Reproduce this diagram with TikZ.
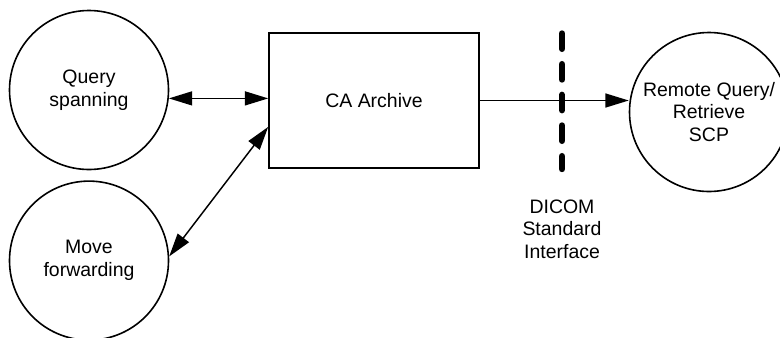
\documentclass[tikz,border=0pt]{standalone}
\usepackage{fontspec}
\setmainfont{Liberation Sans}
\usetikzlibrary{shapes.geometric, arrows.meta, positioning, calc}

\begin{document}
\begin{tikzpicture}[
    x=0.75pt, y=-0.75pt,
    font=\fontsize{14.6}{17}\selectfont,
    >={Triangle[length=17.5pt, width=10.5pt]},
    process/.style={rectangle, draw, line width=1.2pt, minimum width=157.5pt, minimum height=101.25pt},
    agent/.style={circle, draw, line width=1.2pt, minimum size=119.25pt, inner sep=0pt, align=center},
    arrow/.style={line width=1.1pt, ->},
    twoway/.style={line width=1.1pt, <->},
    boundary/.style={line width=4.8pt, line cap=round, dash pattern=on 11.5pt off 11.5pt},
    label/.style={align=center}
]
\useasboundingbox (0,0) rectangle (780,337);

% Query spanning
\node[agent] (query) at (89,90) {Query\\spanning};

% Move forwarding
\node[agent, below=7.5pt of query] (move) {Move\\forwarding};

% CA Archive
\node[process] (archive) at (374,100.5) {CA Archive};

% Remote Query/Retrieve SCP
\node[agent] (remote) at (709,112) {Remote Query/\\Retrieve\\SCP};

% DICOM interface
\node[label] (dicom) at (562,229) {DICOM\\Standard\\Interface};
\coordinate (gatetop) at (562,33.5);
\coordinate (gatebot) at (562,169);
\draw[boundary] (gatetop) -- (gatebot);

% Arrows
\draw[twoway] (query.-6) -- (query.-6 -| archive.west);
\draw[twoway] (move.3) -- (archive.194);
\draw[arrow] (archive.east) -- (archive.east -| remote.west);

\end{tikzpicture}
\end{document}
